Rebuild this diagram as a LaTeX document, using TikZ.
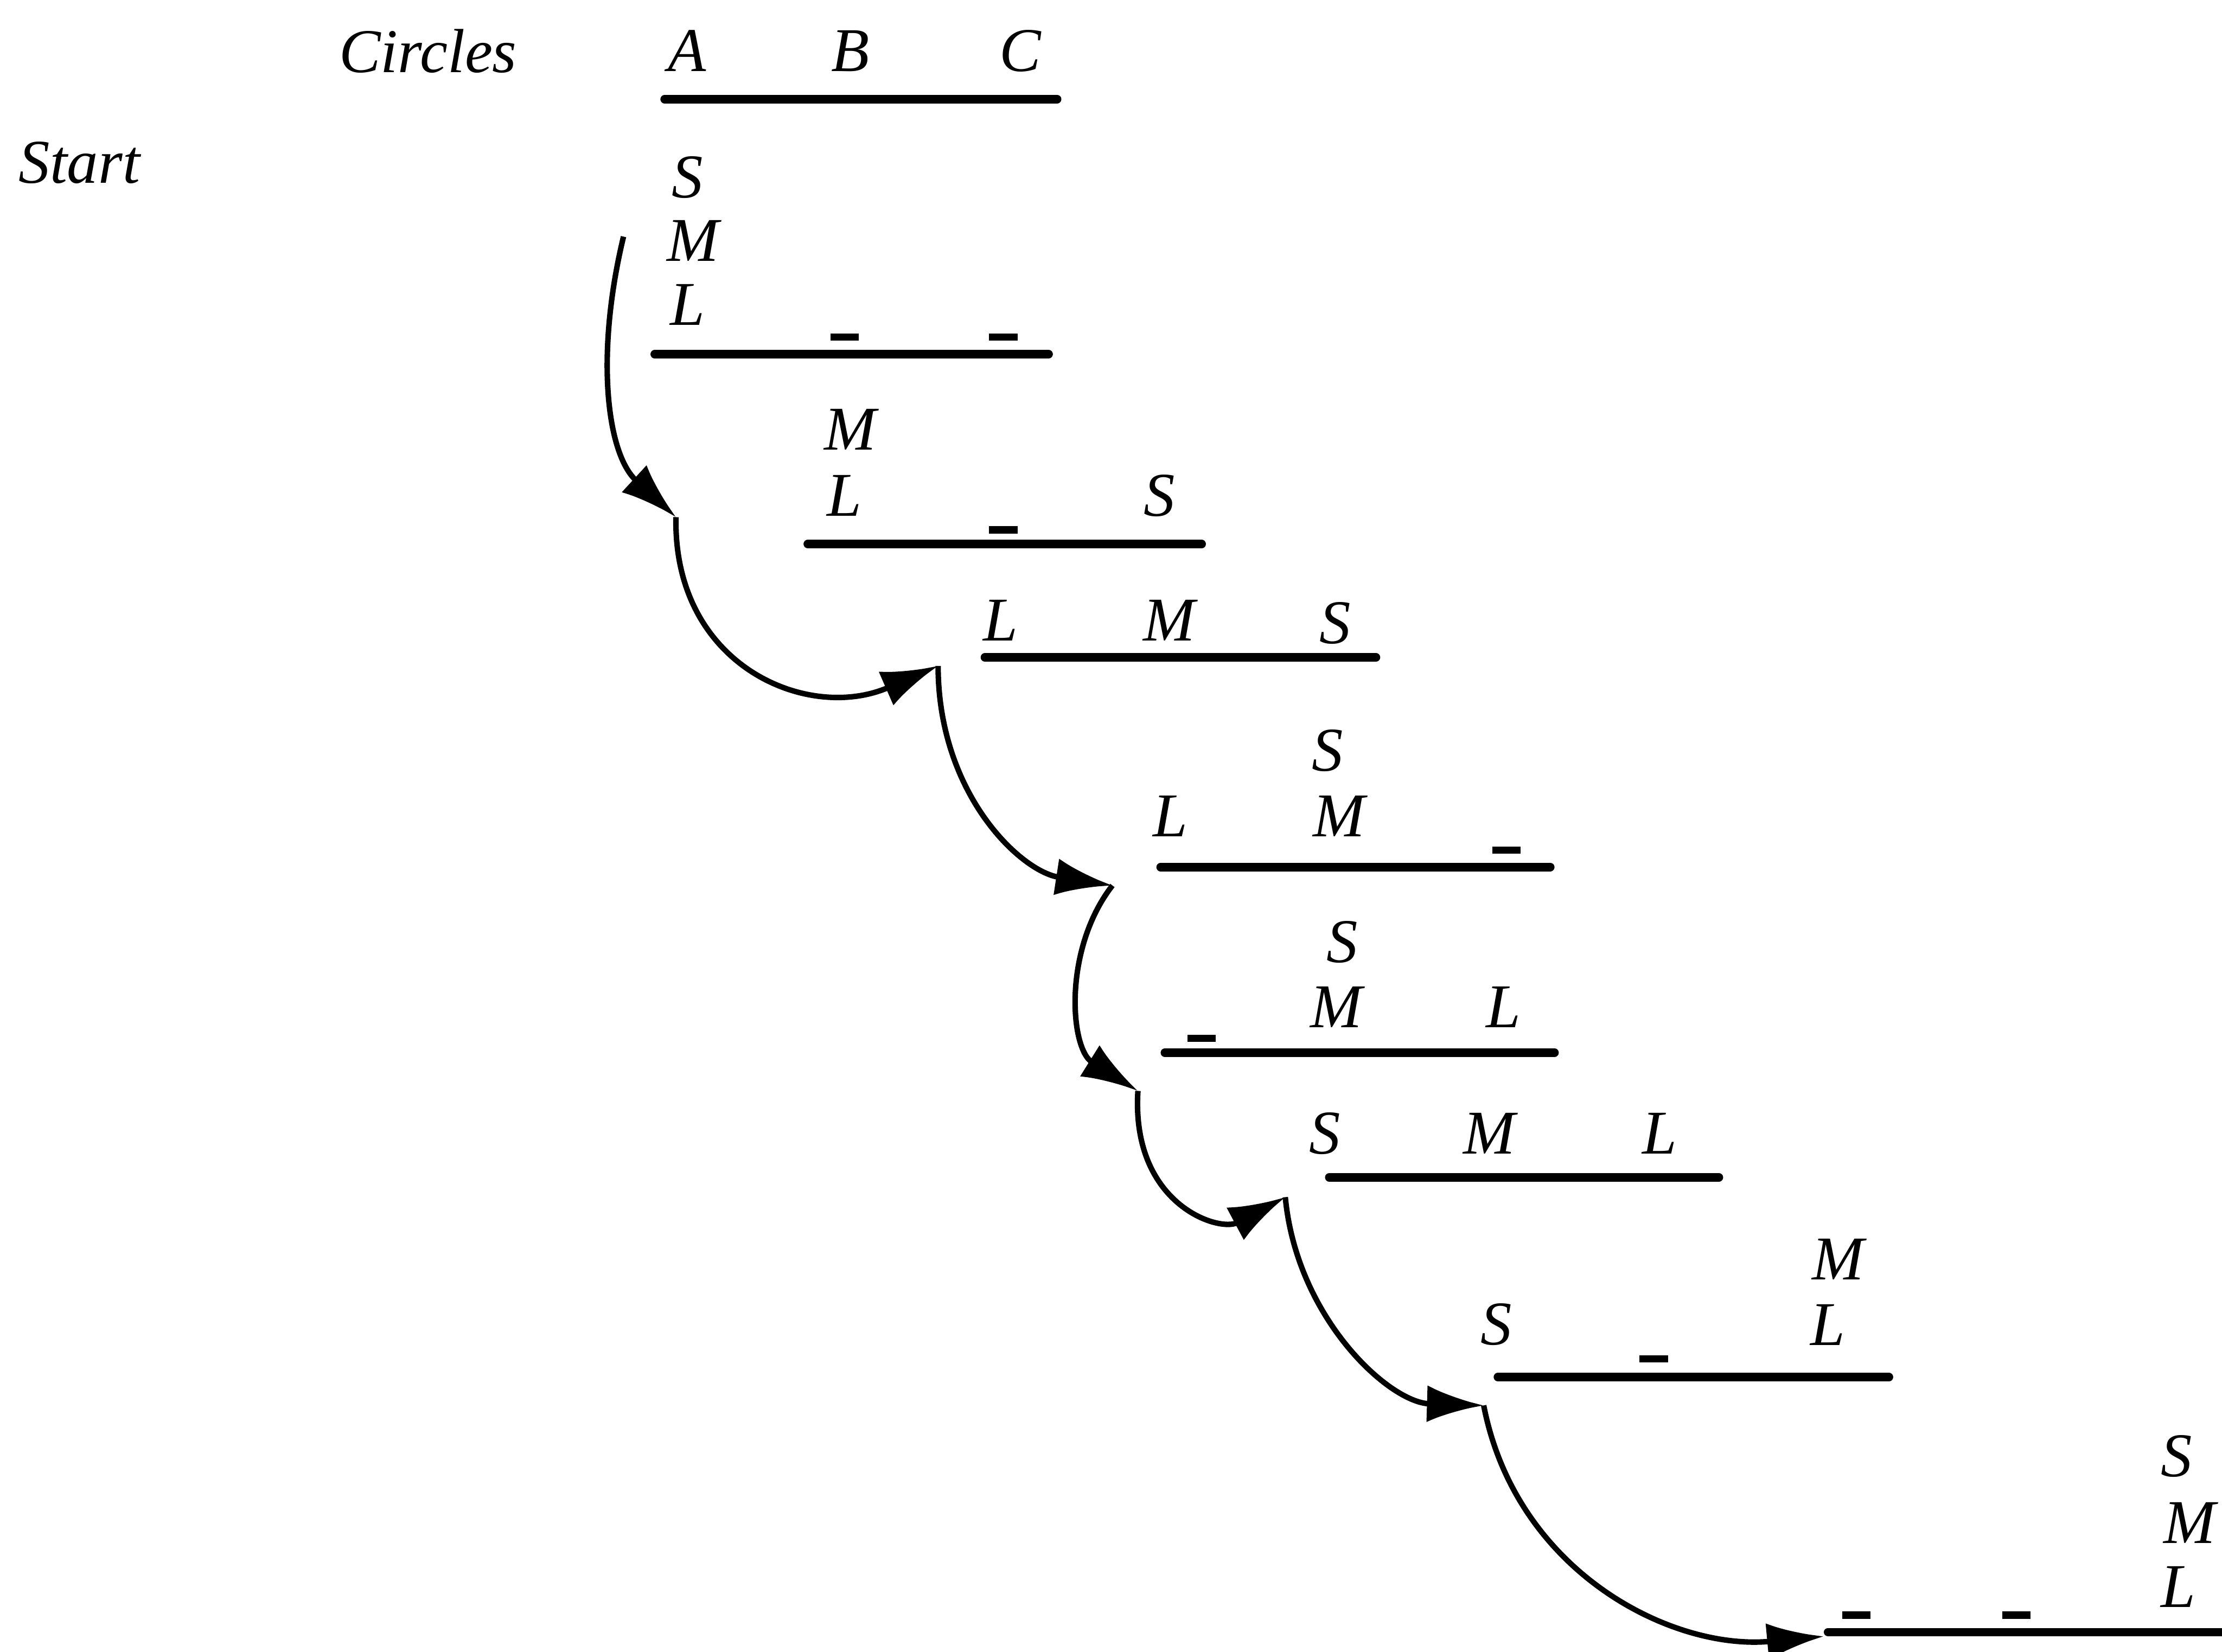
\documentclass[tikz,border=0pt]{standalone}
\usepackage{fontspec}
\setmainfont{Liberation Serif}
\usepackage{tikz}
\usetikzlibrary{arrows.meta}
\tikzset{
  disk/.style={font=\fontsize{12.5}{15}\selectfont\itshape,inner sep=0pt},
  rodline/.style={line width=1.7pt,line cap=round},
  emptypeg/.style={fill=black,inner sep=0pt,minimum width=0.2cm,minimum height=0.05cm},
  move/.style={-{Latex[length=4mm,width=2.6mm]},line width=1.1pt}
}

\begin{document}
\begin{tikzpicture}[x=0.01cm,y=-0.01cm]
  \useasboundingbox (0,0) rectangle (1568,1166);
  % header
  \node[disk] (circles) at (302,36) {Circles};
  \node[disk] (hA) at (485,36) {A};
  \node[disk] (hB) at (600,36) {B};
  \node[disk] (hC) at (720,36) {C};
  \draw[rodline] (469,70) -- (746,70);
  \node[disk] (start) at (56,115) {Start};
  % state 0
  \node[disk] (s0S) at (485,125) {S};
  \node[disk] (s0M) at (489,170) {M};
  \node[disk] (s0L) at (485,215) {L};
  \node[emptypeg] (s0b) at (596,238) {};
  \node[emptypeg] (s0c) at (708,238) {};
  \draw[rodline] (462,250) -- (740,250);
  % state 1
  \node[disk] (s1M) at (600,303) {M};
  \node[disk] (s1L) at (596,350) {L};
  \node[emptypeg] (s1b) at (708,374) {};
  \node[disk] (s1S) at (818,350) {S};
  \draw[rodline] (570,384) -- (848,384);
  % state 2
  \node[disk] (s2L) at (706,438) {L};
  \node[disk] (s2M) at (825,438) {M};
  \node[disk] (s2S) at (942,440) {S};
  \draw[rodline] (695,464) -- (971,464);
  % state 3
  \node[disk] (s3S) at (937,530) {S};
  \node[disk] (s3L) at (826,576) {L};
  \node[disk] (s3M) at (945,576) {M};
  \node[emptypeg] (s3c) at (1063,600) {};
  \draw[rodline] (819,612) -- (1094,612);
  % state 4
  \node[emptypeg] (s4a) at (848,733) {};
  \node[disk] (s4S) at (947,665) {S};
  \node[disk] (s4M) at (943,711) {M};
  \node[disk] (s4L) at (1061,711) {L};
  \draw[rodline] (822,743) -- (1097,743);
  % state 5
  \node[disk] (s5S) at (935,800) {S};
  \node[disk] (s5M) at (1051,800) {M};
  \node[disk] (s5L) at (1171,800) {L};
  \draw[rodline] (938,831) -- (1213,831);
  % state 6
  \node[disk] (s6S) at (1056,935) {S};
  \node[emptypeg] (s6b) at (1167,959) {};
  \node[disk] (s6M) at (1297,889) {M};
  \node[disk] (s6L) at (1290,935) {L};
  \draw[rodline] (1057,972) -- (1333,972);
  % state 7
  \node[emptypeg] (s7a) at (1310,1140) {};
  \node[emptypeg] (s7b) at (1423,1140) {};
  \node[disk] (s7S) at (1536,1028) {S};
  \node[disk] (s7M) at (1545,1075) {M};
  \node[disk] (s7L) at (1537,1120) {L};
  \draw[rodline] (1290,1152) -- (1568,1152);
  % moves
  \coordinate (m0) at (440,167);
  \coordinate (m1) at (477,365);
  \coordinate (m2) at (662,470);
  \coordinate (m3) at (785,625);
  \coordinate (m4) at (803,770);
  \coordinate (m5) at (907,845);
  \coordinate (m6) at (1047,992);
  \coordinate (m7) at (1287,1155);
  \draw[move] (m0) .. controls (420,250) and (428,320) .. (m1);
  \draw[move] (m1) .. controls (475,470) and (570,510) .. (m2);
  \draw[move] (m2) .. controls (662,560) and (720,615) .. (m3);
  \draw[move] (m3) .. controls (750,670) and (755,740) .. (m4);
  \draw[move] (m4) .. controls (798,850) and (860,870) .. (m5);
  \draw[move] (m5) .. controls (915,930) and (980,990) .. (m6);
  \draw[move] (m6) .. controls (1070,1110) and (1180,1165) .. (m7);
\end{tikzpicture}
\end{document}
